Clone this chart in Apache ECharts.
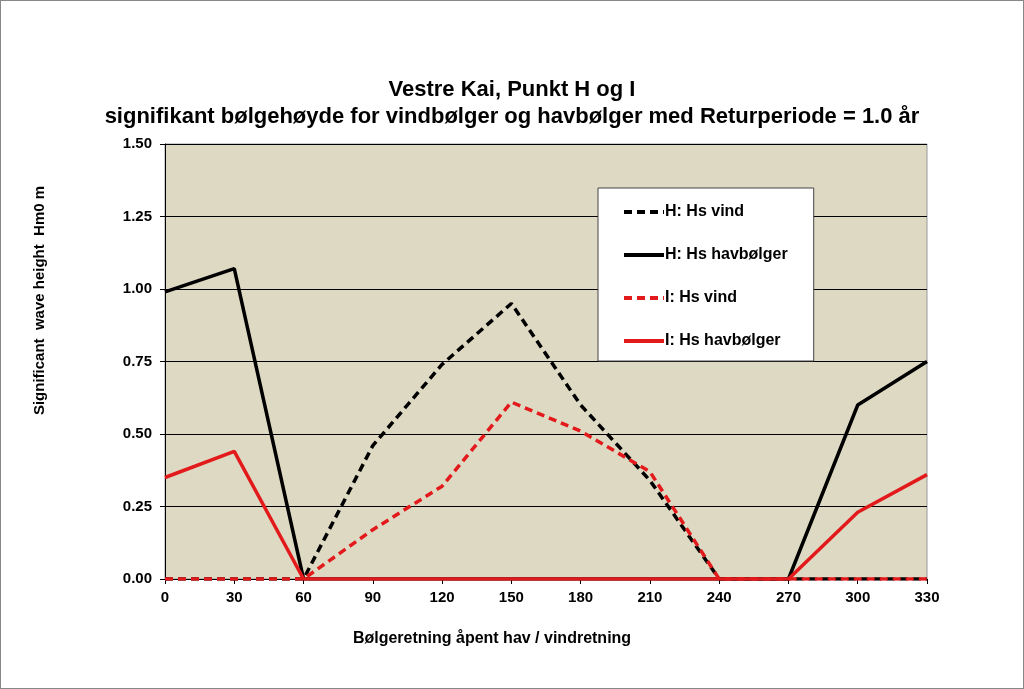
<!DOCTYPE html>
<html><head><meta charset="utf-8">
<script src="https://cdn.jsdelivr.net/npm/echarts@6/dist/echarts.min.js"></script>
<style>html,body{margin:0;padding:0;background:#fff}#c{width:1024px;height:689px;box-sizing:border-box;border:1px solid #888}</style>
</head><body><div id="c"></div>
<script>
const categories = ['0','30','60','90','120','150','180','210','240','270','300','330'];
const hVind = [0,0,0,0.46,0.74,0.95,0.60,0.34,0,0,0,0];
const hHav = [0.99,1.07,0,0,0,0,0,0,0,0,0.60,0.75];
const iVind = [0,0,0,0.17,0.32,0.61,0.51,0.37,0,0,0,0];
const iHav = [0.35,0.44,0,0,0,0,0,0,0,0,0.23,0.36];
const yTicks = [0,0.25,0.5,0.75,1.0,1.25,1.5];

const chart = echarts.init(document.getElementById('c'));
const F = 'Liberation Sans, Arial, sans-serif';
function line(name, data, color, dashed){
  return {name, type:'line', data, symbol:'none', animation:false,
    lineStyle:{color, width:3.5, type: dashed ? [8,5] : 'solid'}, itemStyle:{color}};
}
chart.setOption({
  animation:false,
  title:{text:'Vestre Kai, Punkt H og I\nsignifikant bølgehøyde for vindbølger og havbølger med Returperiode = 1.0 år',
    left:'center', top:70, textStyle:{fontFamily:F, fontWeight:'bold', fontSize:22, lineHeight:27, color:'#000'}},
  grid:{left:164, top:143, width:762, height:435, backgroundColor:'#DDD9C3', show:true, borderColor:'#999', borderWidth:1},
  legend:{orient:'vertical', left:597, top:187,
    backgroundColor:'#fff', borderColor:'#444', borderWidth:1,
    padding:[16,26,12,24], itemGap:27, itemWidth:40, itemHeight:16,
    itemStyle:{opacity:0},
    lineStyle:{width:4},
    textStyle:{fontFamily:F, fontWeight:'bold', fontSize:16, color:'#000', padding:[0,0,0,-4]},
    data:['H: Hs vind','H: Hs havbølger','I: Hs vind','I: Hs havbølger']},
  xAxis:{type:'category', data:categories, boundaryGap:false,
    name:'Bølgeretning åpent hav / vindretning', nameLocation:'middle', nameGap:52,
    nameTextStyle:{fontFamily:F, fontWeight:'bold', fontSize:16, color:'#000', padding:[0,108,0,0]},
    axisLine:{lineStyle:{color:'#000', width:1}},
    axisTick:{show:true, alignWithLabel:true, length:5, lineStyle:{color:'#000'}},
    axisLabel:{fontFamily:F, fontWeight:'bold', fontSize:15, color:'#000', margin:11, interval:0},
    splitLine:{show:false}},
  yAxis:{type:'value', min:0, max:1.5, interval:0.25,
    name:'Significant  wave height  Hm0 m', nameLocation:'middle', nameGap:118, nameRotate:90,
    nameTextStyle:{fontFamily:F, fontWeight:'bold', fontSize:15, color:'#000', padding:[0,0,0,122]},
    axisLine:{show:true, lineStyle:{color:'#000', width:1}},
    axisTick:{show:true, length:5, lineStyle:{color:'#000'}},
    axisLabel:{fontFamily:F, fontWeight:'bold', fontSize:15, color:'#000', margin:13,
      formatter: v => yTicks.indexOf(v) >= 0 ? v.toFixed(2) : ''},
    splitLine:{show:true, lineStyle:{color:'#000', width:1}}},
  series:[
    line('H: Hs vind', hVind, '#000', true),
    line('H: Hs havbølger', hHav, '#000', false),
    line('I: Hs vind', iVind, '#E31A1C', true),
    line('I: Hs havbølger', iHav, '#E31A1C', false)
  ]
});
</script></body></html>
